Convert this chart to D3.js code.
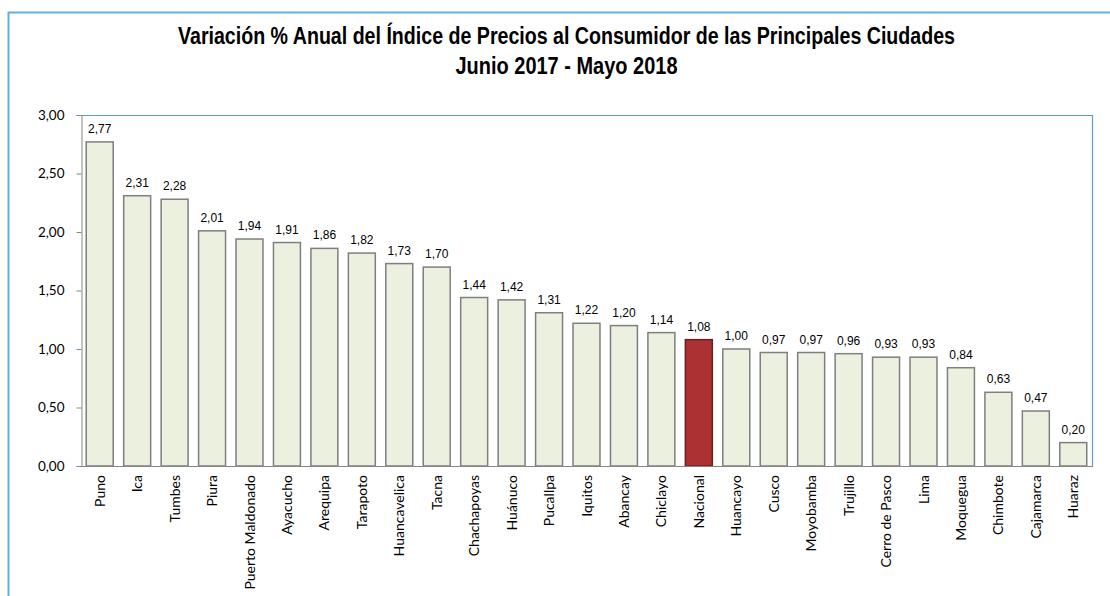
<!DOCTYPE html>
<html>
<head>
<meta charset="utf-8">
<script src="https://cdn.jsdelivr.net/npm/d3@7"></script>
<style>
  body { margin: 0; background: #fff; }
  svg { display: block; }
</style>
</head>
<body>
<div id="chart"></div>
<script>
// data
var cities = ['Puno', 'Ica', 'Tumbes', 'Piura', 'Puerto Maldonado', 'Ayacucho', 'Arequipa', 'Tarapoto',
    'Huancavelica', 'Tacna', 'Chachapoyas', 'Huánuco', 'Pucallpa', 'Iquitos', 'Abancay', 'Chiclayo',
    'Nacional', 'Huancayo', 'Cusco', 'Moyobamba', 'Trujillo', 'Cerro de Pasco', 'Lima', 'Moquegua',
    'Chimbote', 'Cajamarca', 'Huaraz'];
var values = [2.77, 2.31, 2.28, 2.01, 1.94, 1.91, 1.86, 1.82, 1.73, 1.70, 1.44, 1.42, 1.31, 1.22, 1.20,
    1.14, 1.08, 1.00, 0.97, 0.97, 0.96, 0.93, 0.93, 0.84, 0.63, 0.47, 0.20];
var yTicks = [0, 0.5, 1, 1.5, 2, 2.5, 3];
var titleLines = ['Variación % Anual del Índice de Precios al Consumidor de las Principales Ciudades',
    'Junio 2017 - Mayo 2018'];
var highlight = 'Nacional';

(function () {
    "use strict";

    var width = 1110,
        height = 596,
        plot = {left: 81, top: 115, right: 1092, bottom: 466},
        titleWidths = [777, 222]; // no narrow font installed, so squeeze the title to fit

    var fmt = function (v) {
        return d3.format('.2f')(v).replace('.', ',');
    };

    var svg = d3.select('#chart').append('svg')
        .attr('width', width)
        .attr('height', height);

    // outer frame (only top and left edges visible)
    svg.append('path')
        .attr('d', 'M8.5,' + height + ' V12.5 H' + width)
        .attr('fill', 'none')
        .attr('stroke', '#5AB4E3')
        .attr('stroke-width', 2);

    // title
    svg.selectAll('text.title')
        .data(titleLines)
        .enter().append('text')
        .attr('class', 'title')
        .attr('x', 566.5)
        .attr('y', function (d, i) { return 44 + i * 30; })
        .attr('text-anchor', 'middle')
        .attr('textLength', function (d, i) { return titleWidths[i]; })
        .attr('lengthAdjust', 'spacingAndGlyphs')
        .style('font-family', '"Liberation Sans", Arial, sans-serif')
        .style('font-weight', 'bold')
        .style('font-size', '23px')
        .attr('fill', '#000')
        .text(function (d) { return d; });

    var x = d3.scaleBand()
        .domain(cities)
        .range([plot.left, plot.right])
        .paddingInner(0.28)
        .paddingOuter(0.14);

    var y = d3.scaleLinear()
        .domain([0, 3])
        .range([plot.bottom, plot.top]);

    // plot border top / right
    svg.append('path')
        .attr('d', 'M' + plot.left + ',' + (plot.top + 0.5) + ' H' + (plot.right + 0.5) + ' V' + plot.bottom)
        .attr('fill', 'none')
        .attr('stroke', '#5B9BD5')
        .attr('stroke-width', 1.2);

    // y axis
    var yAxis = svg.append('g')
        .attr('transform', 'translate(' + (plot.left + 0.5) + ',0)')
        .call(d3.axisLeft(y).tickValues(yTicks).tickFormat(fmt).tickSize(5).tickPadding(12));
    yAxis.select('.domain').attr('stroke', '#868686');
    yAxis.selectAll('.tick line').attr('stroke', '#868686');
    yAxis.selectAll('.tick text')
        .style('font-family', 'Lato, "Open Sans", sans-serif')
        .style('font-size', '13.5px')
        .attr('fill', '#000');

    // bars
    svg.selectAll('rect.bar')
        .data(values)
        .enter().append('rect')
        .attr('class', 'bar')
        .attr('x', function (d, i) { return x(cities[i]); })
        .attr('y', function (d) { return y(d); })
        .attr('width', x.bandwidth())
        .attr('height', function (d) { return y(0) - y(d); })
        .attr('fill', function (d, i) { return cities[i] === highlight ? '#AB3132' : '#EBF1DE'; })
        .attr('stroke', function (d, i) { return cities[i] === highlight ? '#6B2020' : '#7F7F7F'; })
        .attr('stroke-width', 1.5);

    // x axis baseline
    svg.append('line')
        .attr('x1', plot.left)
        .attr('x2', plot.right + 1)
        .attr('y1', plot.bottom + 0.5)
        .attr('y2', plot.bottom + 0.5)
        .attr('stroke', '#868686');

    // value labels
    svg.selectAll('text.val')
        .data(values)
        .enter().append('text')
        .attr('class', 'val')
        .attr('x', function (d, i) { return x(cities[i]) + x.bandwidth() / 2; })
        .attr('y', function (d) { return y(d) - 9; })
        .attr('text-anchor', 'middle')
        .style('font-family', '"Liberation Sans", Arial, sans-serif')
        .style('font-size', '12px')
        .attr('fill', '#000')
        .text(fmt);

    // category labels
    svg.selectAll('text.cat')
        .data(cities)
        .enter().append('text')
        .attr('class', 'cat')
        .attr('transform', function (d) {
            return 'translate(' + (x(d) + x.bandwidth() / 2 + 5) + ',' + (plot.bottom + 9) + ') rotate(-90)';
        })
        .attr('text-anchor', 'end')
        .style('font-family', 'Lato, "Open Sans", sans-serif')
        .style('font-size', '14px')
        .attr('fill', '#000')
        .text(function (d) { return d; });
}());
</script>
</body>
</html>
